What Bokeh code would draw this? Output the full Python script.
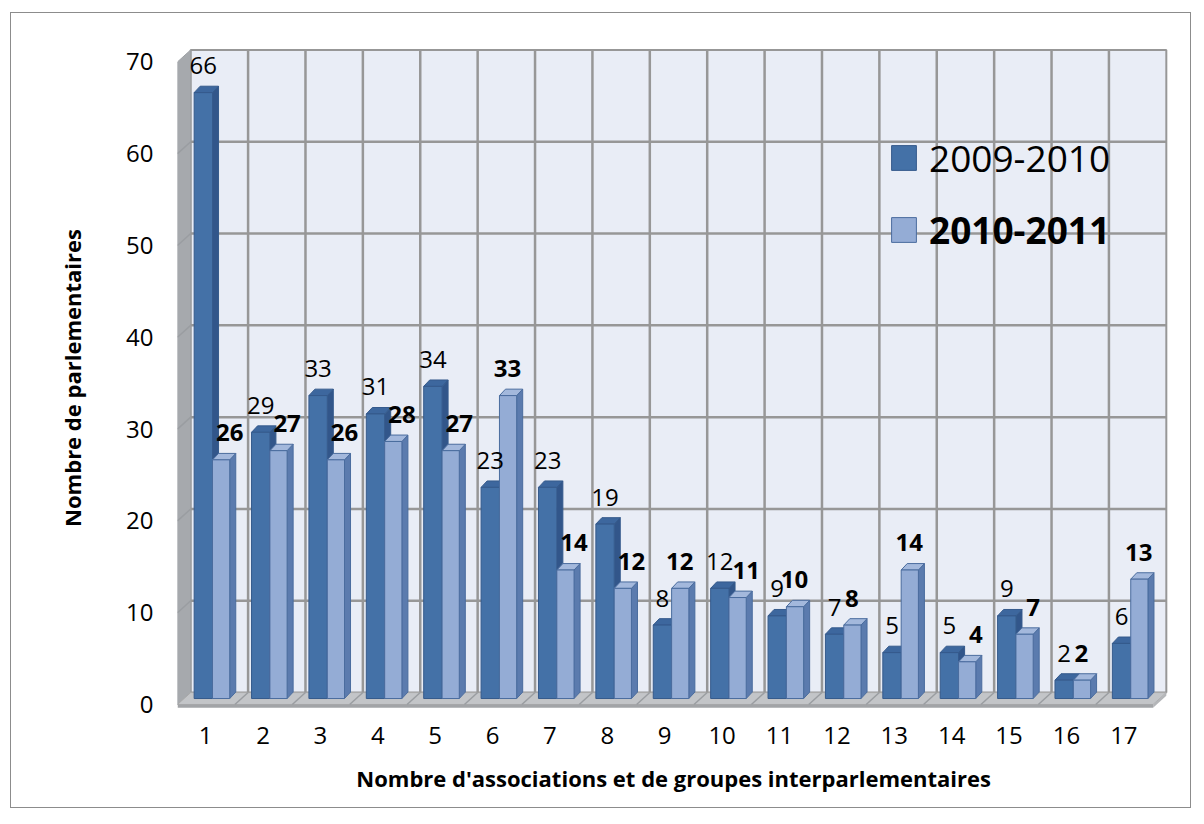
import numpy as np
from bokeh.plotting import figure
from bokeh.models import Range1d, FixedTicker, Legend, LegendItem, ColumnDataSource
from bokeh.embed import file_html
from bokeh.resources import INLINE
from bokeh.core.properties import value

# ---------------- data ----------------
categories = list(range(1, 18))
counts_2009_2010 = [66, 29, 33, 31, 34, 23, 23, 19, 8, 12, 9, 7, 5, 5, 9, 2, 6]
counts_2010_2011 = [26, 27, 26, 28, 27, 33, 14, 12, 12, 11, 10, 8, 14, 4, 7, 2, 13]
y_ticks = [0, 10, 20, 30, 40, 50, 60, 70]
series_names = ["2009-2010", "2010-2011"]
x_title = "Nombre d'associations  et de groupes interparlementaires"
y_title = "Nombre de parlementaires"

# ---------------- style ----------------
FONT = "Open Sans"
XL = 0.51            # front-left edge of the floor (category units)
XR = XL + len(categories)
DX, DY = 0.23, 1.3   # full 3D depth of the floor
BZ = 0.65            # bars stand half-way into the floor depth (value units)
DXB, DYB = 0.105, 0.7  # depth of one bar
YMAX = y_ticks[-1]

DARK = dict(front="#4471A7", side="#32568A", top="#3D679E", line="#355A8C")
LIGHT = dict(front="#94ACD5", side="#5B7BAE", top="#A3B8DC", line="#4A6C9E")
GRID = "#979797"

p = figure(width=1181, height=796, x_range=Range1d(XL, 17.9), y_range=Range1d(-1.09, 72.22),
           output_backend="svg", toolbar_location=None,
           min_border_left=166, min_border_right=17, min_border_top=28, min_border_bottom=95)
p.styles = {"border": "1px solid #8C8C8C", "margin-left": "10px", "margin-top": "12px"}
p.outline_line_color = None
p.xgrid.visible = False
p.ygrid.visible = False
p.background_fill_color = "white"
p.border_fill_color = "white"

# ---------------- walls ----------------
p.quad(left=[XL + DX], right=[XR + DX], bottom=[DY], top=[YMAX + DY],
       fill_color="#E9EDF6", line_color=GRID, line_width=2)
p.patch(x=[XL, XL, XL + DX, XL + DX], y=[0, YMAX, YMAX + DY, DY],
        fill_color="#A6A9AD", line_color="#9C9FA3", line_width=1)
p.patch(x=[XL, XR, XR + DX, XL + DX], y=[0, 0, DY, DY],
        fill_color="#C3C5C8", line_color="#A9A9A9", line_width=1)
p.patch(x=[XL, XR, XR, XL], y=[0, 0, -0.35, -0.35],
        fill_color="#A2A4A7", line_color=None)
p.patch(x=[XR, XR + DX, XR + DX, XR], y=[0, DY, DY - 0.35, -0.35],
        fill_color="#B4B6B9", line_color=None)

gx, gy = [], []
for t in y_ticks[1:-1]:
    gx.append([XL + DX, XR + DX]); gy.append([t + DY, t + DY])
for k in range(1, len(categories)):
    gx.append([XL + k + DX, XL + k + DX]); gy.append([DY, YMAX + DY])
p.multi_line(xs=gx, ys=gy, line_color=GRID, line_width=2.5)
sx, sy = [], []
for t in y_ticks[1:-1]:
    sx.append([XL, XL + DX]); sy.append([t, t + DY])
for k in range(1, len(categories)):
    sx.append([XL + k, XL + k + DX]); sy.append([0, DY])
p.multi_line(xs=sx, ys=sy, line_color="#9A9DA1", line_width=1.5)

# ---------------- bars ----------------
cats = np.array(categories, dtype=float)


def bars(vals, x0_off, x1_off, col):
    v = np.array(vals, dtype=float)
    x0 = cats + x0_off
    x1 = cats + x1_off
    src = ColumnDataSource(dict(left=x0, right=x1, bottom=np.full_like(v, BZ), top=v + BZ))
    side_x = [[a, a + DXB, a + DXB, a] for a in x1]
    side_y = [[BZ, BZ + DYB, h + BZ + DYB, h + BZ] for h in v]
    top_x = [[a, a + DXB, b + DXB, b] for a, b in zip(x0, x1)]
    top_y = [[h + BZ, h + BZ + DYB, h + BZ + DYB, h + BZ] for h in v]
    p.patches(xs=side_x, ys=side_y, fill_color=col["side"], line_color=col["line"], line_width=1)
    p.patches(xs=top_x, ys=top_y, fill_color=col["top"], line_color=col["line"], line_width=1)
    return p.quad(source=src, left="left", right="right", bottom="bottom", top="top",
                  fill_color=col["front"], line_color=col["line"], line_width=1)


r_dark = bars(counts_2009_2010, -0.2, 0.12, DARK)
r_light = bars(counts_2010_2011, 0.12, 0.42, LIGHT)

# ---------------- value labels ----------------
d = np.array(counts_2009_2010, dtype=float)
l = np.array(counts_2010_2011, dtype=float)
lab_d = ColumnDataSource(dict(x=cats - 0.04, y=d + BZ + 2.95, t=[str(int(a)) for a in d]))
light_off = np.where(l >= d, 0.26, 0.42)
lab_l = ColumnDataSource(dict(x=cats + light_off, y=l + BZ + 2.95, t=[str(int(a)) for a in l]))
p.text(x="x", y="y", text="t", source=lab_d, text_font=value(FONT), text_font_size="24px",
       text_align="center", text_baseline="middle", text_color="black")
p.text(x="x", y="y", text="t", source=lab_l, text_font=value(FONT), text_font_size="24px",
       text_font_style="bold", text_align="center", text_baseline="middle", text_color="black")

# ---------------- axes ----------------
p.yaxis.ticker = FixedTicker(ticks=y_ticks)
p.xaxis.ticker = FixedTicker(ticks=categories)
for ax in (p.xaxis[0], p.yaxis[0]):
    ax.axis_line_color = None
    ax.major_tick_line_color = None
    ax.minor_tick_line_color = None
    ax.major_label_text_font = FONT
    ax.major_label_text_font_size = "24px"
    ax.major_label_text_color = "black"
    ax.axis_label_text_font = FONT
    ax.axis_label_text_font_size = "22px"
    ax.axis_label_text_font_style = "bold"
    ax.axis_label_text_color = "black"
p.yaxis.major_label_standoff = 18
p.xaxis.major_label_standoff = 6
p.yaxis.axis_label = y_title
p.xaxis.axis_label = x_title
p.yaxis.axis_label_standoff = 36
p.xaxis.axis_label_standoff = 16

# ---------------- legend ----------------
for r, name, style, loc in ((r_dark, series_names[0], "normal", (711, 531)),
                            (r_light, series_names[1], "bold", (711, 459))):
    lg = Legend(items=[LegendItem(label=name, renderers=[r])], location=loc,
                label_text_font=FONT, label_text_font_size="37px", label_text_font_style=style,
                label_text_color="black", glyph_width=31, glyph_height=31, label_standoff=10,
                padding=0, margin=0, border_line_color=None, background_fill_alpha=0)
    p.add_layout(lg)

open("out.html", "w").write(file_html(p, INLINE))
